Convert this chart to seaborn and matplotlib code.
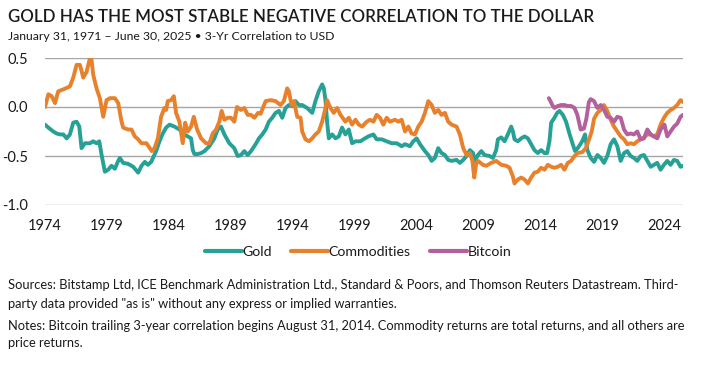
import matplotlib
matplotlib.use("Agg")
import numpy as np
import pandas as pd
import matplotlib.pyplot as plt
import seaborn as sns
from matplotlib.lines import Line2D

# 3-yr rolling correlation to USD
gold_year = [1974.00, 1974.27, 1974.67, 1974.94, 1975.21, 1975.48, 1975.75, 1976.01, 1976.28, 1976.55,
             1976.77, 1976.95, 1977.22, 1977.63, 1977.89, 1978.16, 1978.38, 1978.57, 1978.83, 1979.10,
             1979.37, 1979.64, 1979.91, 1980.04, 1980.31, 1980.71, 1981.12, 1981.52, 1981.79, 1982.06,
             1982.30, 1982.57, 1982.97, 1983.24, 1983.51, 1983.78, 1984.05, 1984.45, 1984.85, 1985.25,
             1985.52, 1985.79, 1985.93, 1986.06, 1986.33, 1986.60, 1986.87, 1987.27, 1987.67, 1987.94,
             1988.21, 1988.48, 1988.88, 1989.28, 1989.55, 1989.82, 1990.09, 1990.36, 1990.63, 1991.00,
             1991.27, 1991.54, 1991.81, 1992.07, 1992.34, 1992.61, 1992.88, 1993.15, 1993.42, 1993.69,
             1993.95, 1994.22, 1994.49, 1994.76, 1995.16, 1995.57, 1995.83, 1996.10, 1996.37, 1996.51,
             1996.64, 1996.77, 1996.91, 1997.18, 1997.45, 1997.72, 1997.98, 1998.25, 1998.52, 1998.79,
             1999.06, 1999.46, 1999.70, 2000.10, 2000.51, 2000.77, 2001.18, 2001.58, 2001.98, 2002.39,
             2002.79, 2003.06, 2003.46, 2003.73, 2004.00, 2004.27, 2004.67, 2004.94, 2005.21, 2005.47,
             2005.74, 2006.01, 2006.28, 2006.55, 2006.82, 2007.22, 2007.49, 2007.76, 2008.03, 2008.30,
             2008.56, 2008.68, 2008.95, 2009.22, 2009.48, 2009.89, 2010.16, 2010.42, 2010.56, 2010.83,
             2011.10, 2011.36, 2011.63, 2011.77, 2011.90, 2012.17, 2012.44, 2012.71, 2012.98, 2013.24,
             2013.51, 2013.78, 2014.05, 2014.32, 2014.53, 2014.72, 2014.86, 2015.12, 2015.34, 2015.53,
             2015.80, 2016.06, 2016.33, 2016.60, 2016.79, 2017.00, 2017.27, 2017.43, 2017.59, 2017.78,
             2018.05, 2018.32, 2018.59, 2018.86, 2019.12, 2019.39, 2019.66, 2019.93, 2020.20, 2020.47,
             2020.74, 2021.00, 2021.27, 2021.54, 2021.81, 2022.08, 2022.35, 2022.62, 2022.89, 2023.15,
             2023.42, 2023.69, 2023.96, 2024.23, 2024.50, 2024.77, 2025.03, 2025.30, 2025.50]
gold_corr = [-0.18, -0.21, -0.25, -0.27, -0.28, -0.28, -0.32, -0.28, -0.16, -0.15,
             -0.20, -0.42, -0.37, -0.37, -0.35, -0.37, -0.35, -0.49, -0.66, -0.64,
             -0.60, -0.63, -0.55, -0.52, -0.57, -0.58, -0.61, -0.67, -0.60, -0.56,
             -0.59, -0.56, -0.45, -0.35, -0.27, -0.21, -0.18, -0.20, -0.23, -0.28,
             -0.30, -0.32, -0.44, -0.48, -0.48, -0.47, -0.45, -0.40, -0.32, -0.23,
             -0.20, -0.28, -0.37, -0.42, -0.50, -0.49, -0.45, -0.49, -0.45, -0.38,
             -0.32, -0.28, -0.23, -0.15, -0.11, -0.06, -0.04, -0.11, -0.01, 0.02,
             0.01, 0.06, 0.02, 0.02, -0.01, -0.06, 0.06, 0.16, 0.23, 0.19,
             0.07, -0.15, -0.32, -0.28, -0.32, -0.30, -0.21, -0.28, -0.23, -0.37,
             -0.35, -0.35, -0.33, -0.30, -0.28, -0.33, -0.33, -0.35, -0.37, -0.37,
             -0.40, -0.38, -0.40, -0.35, -0.32, -0.38, -0.45, -0.49, -0.55, -0.52,
             -0.42, -0.47, -0.49, -0.54, -0.55, -0.54, -0.57, -0.54, -0.50, -0.44,
             -0.47, -0.55, -0.49, -0.45, -0.49, -0.50, -0.52, -0.44, -0.33, -0.31,
             -0.35, -0.28, -0.20, -0.25, -0.33, -0.35, -0.32, -0.30, -0.32, -0.38,
             -0.44, -0.47, -0.44, -0.47, -0.47, -0.35, -0.16, -0.11, -0.06, -0.04,
             -0.08, -0.15, -0.27, -0.38, -0.45, -0.42, -0.37, -0.33, -0.28, -0.44,
             -0.52, -0.56, -0.49, -0.52, -0.57, -0.50, -0.38, -0.33, -0.40, -0.55,
             -0.47, -0.45, -0.50, -0.52, -0.55, -0.50, -0.49, -0.55, -0.61, -0.59,
             -0.57, -0.64, -0.59, -0.55, -0.59, -0.54, -0.55, -0.61, -0.60]

comm_year = [1974.00, 1974.27, 1974.54, 1974.81, 1975.07, 1975.48, 1976.01, 1976.28, 1976.55, 1976.82,
             1977.09, 1977.36, 1977.63, 1977.76, 1977.89, 1978.16, 1978.43, 1978.70, 1978.97, 1979.24,
             1979.64, 1979.91, 1980.18, 1980.31, 1980.71, 1980.98, 1981.25, 1981.52, 1981.79, 1982.19,
             1982.46, 1982.62, 1982.84, 1983.11, 1983.37, 1983.64, 1983.78, 1983.91, 1984.18, 1984.40,
             1984.58, 1984.85, 1985.12, 1985.31, 1985.52, 1985.79, 1986.01, 1986.28, 1986.60, 1987.00,
             1987.27, 1987.54, 1987.81, 1988.07, 1988.26, 1988.48, 1988.75, 1989.01, 1989.28, 1989.50,
             1989.82, 1990.09, 1990.36, 1990.63, 1990.90, 1991.20, 1991.40, 1991.81, 1992.21, 1992.61,
             1993.01, 1993.28, 1993.55, 1993.69, 1993.90, 1994.09, 1994.36, 1994.63, 1994.76, 1995.03,
             1995.30, 1995.57, 1995.83, 1996.10, 1996.37, 1996.64, 1996.77, 1997.04, 1997.31, 1997.58,
             1997.85, 1998.25, 1998.52, 1998.79, 1999.06, 1999.33, 1999.60, 1999.97, 2000.24, 2000.51,
             2000.77, 2001.04, 2001.31, 2001.58, 2001.85, 2002.25, 2002.52, 2002.79, 2003.06, 2003.33,
             2003.59, 2003.86, 2004.13, 2004.40, 2004.67, 2004.94, 2005.21, 2005.47, 2005.74, 2006.01,
             2006.28, 2006.55, 2006.82, 2007.22, 2007.49, 2007.76, 2008.03, 2008.30, 2008.50, 2008.65,
             2008.80, 2008.95, 2009.35, 2009.62, 2010.02, 2010.42, 2010.83, 2011.23, 2011.50, 2011.77,
             2011.90, 2012.17, 2012.44, 2012.71, 2012.98, 2013.24, 2013.51, 2013.78, 2014.05, 2014.32,
             2014.59, 2014.86, 2015.12, 2015.39, 2015.66, 2015.93, 2016.20, 2016.47, 2016.74, 2017.00,
             2017.38, 2017.65, 2017.92, 2018.13, 2018.32, 2018.59, 2018.86, 2019.12, 2019.39, 2019.66,
             2019.93, 2020.20, 2020.47, 2020.74, 2021.00, 2021.27, 2021.54, 2021.81, 2022.08, 2022.35,
             2022.62, 2022.89, 2023.15, 2023.42, 2023.69, 2023.96, 2024.23, 2024.50, 2024.77, 2025.03,
             2025.30, 2025.50]
comm_corr = [0.00, 0.13, 0.11, 0.04, 0.16, 0.18, 0.21, 0.30, 0.43, 0.43,
             0.30, 0.36, 0.50, 0.48, 0.33, 0.19, 0.09, -0.10, 0.07, 0.09,
             0.09, 0.04, -0.15, -0.21, -0.23, -0.23, -0.30, -0.33, -0.37, -0.37,
             -0.42, -0.45, -0.42, -0.32, -0.10, -0.01, -0.03, 0.06, 0.07, 0.11,
             -0.06, -0.15, -0.37, -0.16, -0.25, -0.20, -0.10, -0.23, -0.32, -0.37,
             -0.37, -0.27, -0.23, -0.15, -0.04, -0.13, -0.11, -0.11, -0.15, 0.00,
             -0.03, -0.01, -0.08, -0.08, -0.11, -0.06, -0.07, 0.06, 0.07, 0.06,
             0.02, 0.06, 0.19, 0.16, 0.02, 0.06, -0.10, -0.11, -0.25, -0.33,
             -0.35, -0.32, -0.28, -0.25, -0.15, -0.01, 0.07, -0.01, -0.06, -0.01,
             -0.08, -0.15, -0.11, -0.18, -0.13, -0.18, -0.20, -0.15, -0.13, -0.15,
             -0.08, -0.11, -0.18, -0.11, -0.15, -0.13, -0.15, -0.13, -0.25, -0.20,
             -0.27, -0.28, -0.20, -0.15, -0.06, 0.06, 0.02, -0.06, -0.03, -0.08,
             -0.06, -0.15, -0.18, -0.20, -0.28, -0.42, -0.49, -0.47, -0.55, -0.72,
             -0.58, -0.55, -0.59, -0.60, -0.57, -0.55, -0.59, -0.60, -0.62, -0.71,
             -0.78, -0.74, -0.72, -0.74, -0.78, -0.72, -0.67, -0.66, -0.62, -0.64,
             -0.59, -0.61, -0.62, -0.61, -0.59, -0.64, -0.57, -0.55, -0.50, -0.47,
             -0.46, -0.42, -0.33, -0.25, -0.12, -0.06, -0.03, 0.02, -0.04, -0.13,
             -0.20, -0.25, -0.30, -0.33, -0.38, -0.37, -0.38, -0.35, -0.33, -0.31,
             -0.28, -0.28, -0.30, -0.28, -0.18, -0.11, -0.06, -0.03, -0.01, 0.02,
             0.07, 0.05]

btc_year = [2014.67, 2014.80, 2014.95, 2015.12, 2015.39, 2015.66, 2015.93, 2016.20, 2016.47, 2016.74,
            2016.97, 2017.24, 2017.50, 2017.70, 2017.90, 2018.05, 2018.32, 2018.59, 2018.86, 2019.12,
            2019.39, 2019.66, 2019.93, 2020.20, 2020.47, 2020.74, 2021.00, 2021.27, 2021.54, 2021.81,
            2022.08, 2022.35, 2022.62, 2022.89, 2023.15, 2023.42, 2023.69, 2024.00, 2024.23, 2024.50,
            2024.77, 2025.03, 2025.30, 2025.50]
btc_corr = [0.09, 0.06, 0.02, -0.01, 0.01, 0.02, 0.02, 0.01, 0.01, -0.01,
            -0.08, -0.23, -0.22, -0.12, 0.05, 0.08, 0.06, -0.01, 0.02, -0.03,
            -0.10, -0.11, -0.15, -0.10, -0.11, -0.23, -0.28, -0.27, -0.28, -0.25,
            -0.33, -0.32, -0.23, -0.28, -0.30, -0.32, -0.23, -0.18, -0.30, -0.25,
            -0.20, -0.17, -0.10, -0.08]

series_names = ["Gold", "Commodities", "Bitcoin"]
colors = ["#27A196", "#E8812C", "#B3609D"]
x_ticks = list(range(1974, 2025, 5))
y_ticks = [-1.0, -0.5, 0.0, 0.5]

title = "GOLD HAS THE MOST STABLE NEGATIVE CORRELATION TO THE DOLLAR"
subtitle = "January 31, 1971 \u2013 June 30, 2025 \u2022 3-Yr Correlation to USD"
notes = [
    "Sources: Bitstamp Ltd, ICE Benchmark Administration Ltd., Standard & Poors, and Thomson Reuters Datastream. Third-",
    "party data provided \"as is\" without any express or implied warranties.",
    "Notes: Bitcoin trailing 3-year correlation begins August 31, 2014. Commodity returns are total returns, and all others are",
    "price returns.",
]

df = pd.concat([
    pd.DataFrame({"year": gold_year, "corr": gold_corr, "series": "Gold"}),
    pd.DataFrame({"year": comm_year, "corr": comm_corr, "series": "Commodities"}),
    pd.DataFrame({"year": btc_year, "corr": btc_corr, "series": "Bitcoin"}),
], ignore_index=True)

sns.set_theme(style="white")
plt.rcParams["font.family"] = ["Lato", "DejaVu Sans"]
plt.rcParams["axes.unicode_minus"] = False
txt = "#1a1a1a"

fig = plt.figure(figsize=(7.05, 3.7), dpi=100)
ax = fig.add_axes([45 / 705, 1 - 205 / 370, 638 / 705, 147 / 370])

sns.lineplot(data=df, x="year", y="corr", hue="series", hue_order=series_names,
             palette=colors, linewidth=2.8, estimator=None, legend=False, ax=ax)

ax.set_xlim(1974, 2025.5)
ax.set_ylim(-1.0, 0.5)
ax.set_xticks(x_ticks)
ax.set_yticks(y_ticks)
ax.set_yticklabels(["%.1f" % v for v in y_ticks])
ax.set_xlabel("")
ax.set_ylabel("")
ax.grid(axis="y", color="#a6a6a6", linewidth=1.0)
ax.set_axisbelow(True)
sns.despine(ax=ax, left=True, bottom=True)
ax.tick_params(axis="both", length=0, labelsize=10.5, colors=txt)
ax.tick_params(axis="y", pad=12)
ax.tick_params(axis="x", pad=10)

fig.text(8 / 705, 1 - 17 / 370, title, fontsize=12.2, fontweight="semibold", color=txt, va="center")
fig.text(8 / 705, 1 - 37 / 370, subtitle, fontsize=8.8, color=txt, va="center")

handles = [Line2D([0], [0], color=c, linewidth=3) for c in colors]
fig.legend(handles, series_names, loc="center", bbox_to_anchor=(358 / 705, 1 - 252 / 370), ncol=3,
           frameon=False, fontsize=10.2, handlelength=2.6, handletextpad=0.05,
           columnspacing=1.35, labelcolor=txt)

for y, line in zip([285, 304, 326, 343], notes):
    fig.text(8 / 705, 1 - y / 370, line, fontsize=9.3, color=txt, va="center")

fig.savefig("out.png", dpi=100)
